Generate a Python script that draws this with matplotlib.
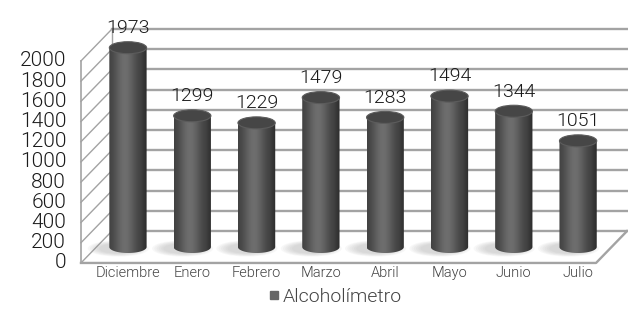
import numpy as np
import matplotlib.pyplot as plt
from matplotlib.patches import Ellipse, Polygon

meses = ['Diciembre', 'Enero', 'Febrero', 'Marzo', 'Abril', 'Mayo', 'Junio', 'Julio']
valores = [1973, 1299, 1229, 1479, 1283, 1494, 1344, 1051]
ticks = list(range(0, 2001, 200))
serie = 'Alcoholímetro'

plt.rcParams['font.family'] = ['Roboto', 'DejaVu Sans']

fig = plt.figure(figsize=(6.28, 3.12), dpi=100)
ax = fig.add_axes([0, 0, 1, 1])
ax.set_xlim(-1.99, 7.776)
ax.set_ylim(-643.6, 2445.5)
ax.axis('off')

# half depth of the 3d box, in data units
dx, dy = 0.241, 158
x0, x1 = -0.49, 7.52
grid = '#a3a3a3'

# back wall + left wall
for t in ticks:
    ax.plot([x0 + dx, x1 + dx], [t + dy, t + dy], color=grid, lw=1.7, zorder=1)
    ax.plot([x0 - dx, x0 + dx], [t - dy, t + dy], color=grid, lw=1.0, zorder=1)
ax.plot([x0 + dx, x0 + dx], [dy, 2000 + dy], color=grid, lw=1.0, zorder=1)
ax.plot([x0 - dx, x0 - dx], [-dy, 2000 - dy], color=grid, lw=1.2, zorder=1)
# floor
ax.plot([x0 - dx, x1 - dx, x1 + dx], [-dy, -dy, dy], color=grid, lw=1.7, zorder=1)

for t in ticks:
    ax.text(x0 - dx - 0.23, t - dy, str(t), ha='right', va='center',
            fontsize=15, fontweight=300, color='#1a1a1a')

# cylinders
w = 0.58
eh = 119
xs = np.linspace(0, 1, 200)
shade = 0.23 + 0.2 * np.exp(-((xs - 0.42) / 0.3) ** 2)
shade[xs > 0.85] -= (xs[xs > 0.85] - 0.85) * 0.4
img = np.tile(shade, (2, 1))

for i, (m, v) in enumerate(zip(meses, valores)):
    # shadow on the floor
    for k in range(6):
        ax.add_patch(Ellipse((i - 0.15, -15), 0.95 - k * 0.07, 160 - k * 12,
                             facecolor='#999999', edgecolor='none', alpha=0.07, zorder=2))
    th = np.linspace(0, np.pi, 40)
    bx = i + (w / 2) * np.cos(th)
    by = -(eh / 2) * np.sin(th)
    pts = [(i - w / 2, v), (i + w / 2, v)] + list(zip(bx, by))
    body = Polygon(pts, closed=True, facecolor='none', edgecolor='none', zorder=3)
    ax.add_patch(body)
    im = ax.imshow(img, cmap='gray', vmin=0, vmax=1, aspect='auto',
                   extent=[i - w / 2, i + w / 2, -eh / 2, v], zorder=3,
                   interpolation='bilinear')
    im.set_clip_path(body)
    ax.add_patch(Ellipse((i, v), w, eh, facecolor='#464646',
                         edgecolor='#5c5c5c', lw=0.8, zorder=4))
    ax.text(i, v + 195, str(v), ha='center', va='center', fontsize=14,
            fontweight=300, color='#1a1a1a', zorder=5)
    ax.text(i, -257, m, ha='center', va='center', fontsize=10.5,
            fontweight=300, color='#444444')

# legend
ax.plot([2.27], [-480], marker='s', ms=5.5, color='#666666', ls='none')
ax.text(2.40, -500, serie, ha='left', va='center', fontsize=14,
        fontweight=300, color='#444444')

fig.savefig('out.png', dpi=100)
